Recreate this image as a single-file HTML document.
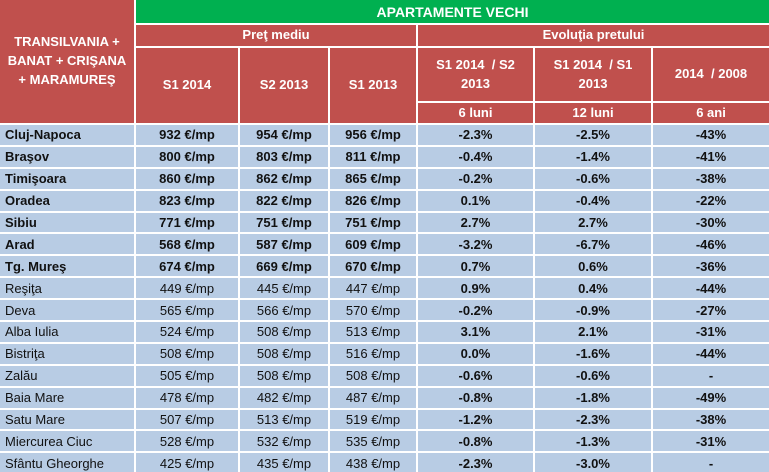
<!DOCTYPE html>
<html><head><meta charset="utf-8"><style>
body{margin:0;background:#fff;}
.g{display:grid;width:769px;height:472px;overflow:hidden;background:#fff;gap:2px;
grid-template-columns:134px 102px 88px 86px 115px 116px 116px;
grid-template-rows:23px 21px 53px 20px repeat(16,19.9px);
font-family:"Liberation Sans",sans-serif;font-size:13px;}
.g>div{display:flex;align-items:center;justify-content:center;text-align:center;}
.h{background:#c0504d;color:#fff;font-weight:bold;line-height:1.45;}
.gr{background:#00b050;color:#fff;font-weight:bold;font-size:14px;}
.d{background:#b8cce4;color:#111;}
.d.l{justify-content:flex-start!important;padding-left:5px;}
.b{font-weight:bold;}
</style></head><body>
<div class="g">
<div class="h" style="grid-column:1;grid-row:1/5">TRANSILVANIA +<br>BANAT + CRIŞANA<br>+ MARAMUREŞ</div>
<div class="gr" style="grid-column:2/8;grid-row:1">APARTAMENTE VECHI</div>
<div class="h" style="grid-column:2/5;grid-row:2">Preţ mediu</div>
<div class="h" style="grid-column:5/8;grid-row:2">Evoluţia pretului</div>
<div class="h" style="grid-column:2;grid-row:3/5">S1 2014</div>
<div class="h" style="grid-column:3;grid-row:3/5">S2 2013</div>
<div class="h" style="grid-column:4;grid-row:3/5">S1 2013</div>
<div class="h" style="grid-column:5;grid-row:3">S1 2014&nbsp; / S2<br>2013</div>
<div class="h" style="grid-column:6;grid-row:3">S1 2014&nbsp; / S1<br>2013</div>
<div class="h" style="grid-column:7;grid-row:3">2014&nbsp; / 2008</div>
<div class="h" style="grid-column:5;grid-row:4">6 luni</div>
<div class="h" style="grid-column:6;grid-row:4">12 luni</div>
<div class="h" style="grid-column:7;grid-row:4">6 ani</div>

<div class="d l b">Cluj-Napoca</div><div class="d b">932 €/mp</div><div class="d b">954 €/mp</div><div class="d b">956 €/mp</div><div class="d b">-2.3%</div><div class="d b">-2.5%</div><div class="d b">-43%</div>
<div class="d l b">Braşov</div><div class="d b">800 €/mp</div><div class="d b">803 €/mp</div><div class="d b">811 €/mp</div><div class="d b">-0.4%</div><div class="d b">-1.4%</div><div class="d b">-41%</div>
<div class="d l b">Timişoara</div><div class="d b">860 €/mp</div><div class="d b">862 €/mp</div><div class="d b">865 €/mp</div><div class="d b">-0.2%</div><div class="d b">-0.6%</div><div class="d b">-38%</div>
<div class="d l b">Oradea</div><div class="d b">823 €/mp</div><div class="d b">822 €/mp</div><div class="d b">826 €/mp</div><div class="d b">0.1%</div><div class="d b">-0.4%</div><div class="d b">-22%</div>
<div class="d l b">Sibiu</div><div class="d b">771 €/mp</div><div class="d b">751 €/mp</div><div class="d b">751 €/mp</div><div class="d b">2.7%</div><div class="d b">2.7%</div><div class="d b">-30%</div>
<div class="d l b">Arad</div><div class="d b">568 €/mp</div><div class="d b">587 €/mp</div><div class="d b">609 €/mp</div><div class="d b">-3.2%</div><div class="d b">-6.7%</div><div class="d b">-46%</div>
<div class="d l b">Tg. Mureş</div><div class="d b">674 €/mp</div><div class="d b">669 €/mp</div><div class="d b">670 €/mp</div><div class="d b">0.7%</div><div class="d b">0.6%</div><div class="d b">-36%</div>
<div class="d l">Reşiţa</div><div class="d">449 €/mp</div><div class="d">445 €/mp</div><div class="d">447 €/mp</div><div class="d b">0.9%</div><div class="d b">0.4%</div><div class="d b">-44%</div>
<div class="d l">Deva</div><div class="d">565 €/mp</div><div class="d">566 €/mp</div><div class="d">570 €/mp</div><div class="d b">-0.2%</div><div class="d b">-0.9%</div><div class="d b">-27%</div>
<div class="d l">Alba Iulia</div><div class="d">524 €/mp</div><div class="d">508 €/mp</div><div class="d">513 €/mp</div><div class="d b">3.1%</div><div class="d b">2.1%</div><div class="d b">-31%</div>
<div class="d l">Bistriţa</div><div class="d">508 €/mp</div><div class="d">508 €/mp</div><div class="d">516 €/mp</div><div class="d b">0.0%</div><div class="d b">-1.6%</div><div class="d b">-44%</div>
<div class="d l">Zalău</div><div class="d">505 €/mp</div><div class="d">508 €/mp</div><div class="d">508 €/mp</div><div class="d b">-0.6%</div><div class="d b">-0.6%</div><div class="d b">-</div>
<div class="d l">Baia Mare</div><div class="d">478 €/mp</div><div class="d">482 €/mp</div><div class="d">487 €/mp</div><div class="d b">-0.8%</div><div class="d b">-1.8%</div><div class="d b">-49%</div>
<div class="d l">Satu Mare</div><div class="d">507 €/mp</div><div class="d">513 €/mp</div><div class="d">519 €/mp</div><div class="d b">-1.2%</div><div class="d b">-2.3%</div><div class="d b">-38%</div>
<div class="d l">Miercurea Ciuc</div><div class="d">528 €/mp</div><div class="d">532 €/mp</div><div class="d">535 €/mp</div><div class="d b">-0.8%</div><div class="d b">-1.3%</div><div class="d b">-31%</div>
<div class="d l">Sfântu Gheorghe</div><div class="d">425 €/mp</div><div class="d">435 €/mp</div><div class="d">438 €/mp</div><div class="d b">-2.3%</div><div class="d b">-3.0%</div><div class="d b">-</div>
</div>
</body></html>
